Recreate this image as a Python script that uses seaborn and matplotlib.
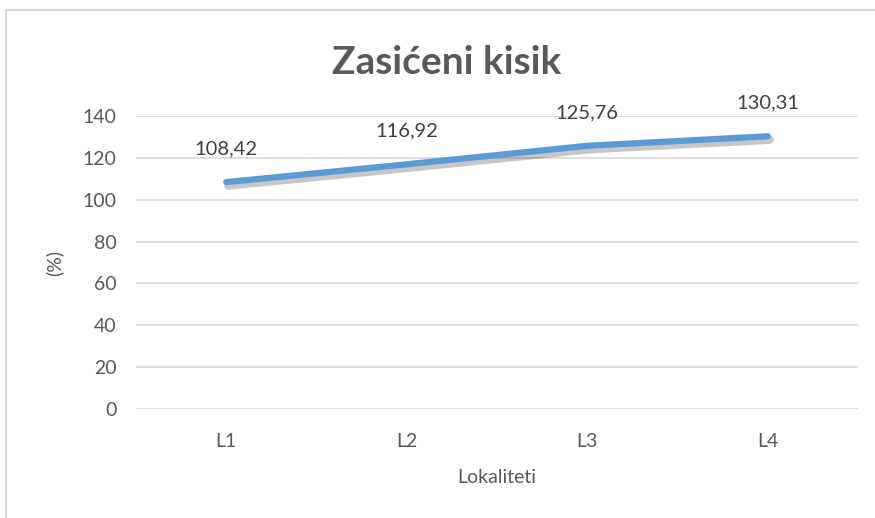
import matplotlib
matplotlib.use('Agg')
import matplotlib.pyplot as plt
import matplotlib.patheffects as pe
import seaborn as sns
import pandas as pd

# Data
locations = ['L1', 'L2', 'L3', 'L4']
saturation = [108.42, 116.92, 125.76, 130.31]
value_labels = ['108,42', '116,92', '125,76', '130,31']
y_ticks = [0, 20, 40, 60, 80, 100, 120, 140]

sns.set_style('white')
plt.rcParams['font.family'] = ['Lato', 'DejaVu Sans']

text_color = '#595959'
grid_color = '#D9D9D9'
line_color = '#5B9BD5'

df = pd.DataFrame({'loc': range(len(locations)), 'val': saturation})

fig = plt.figure(figsize=(8.75, 5.18), dpi=100)
ax = fig.add_axes([136 / 875, 1 - 409 / 518, (858 - 136) / 875, (409 - 116) / 518])

# chart frame (only top and left edges are inside the image)
fig.add_artist(plt.Line2D([6 / 875, 6 / 875], [0, 1 - 10 / 518], transform=fig.transFigure,
                          color=grid_color, lw=1.5))
fig.add_artist(plt.Line2D([6 / 875, 1], [1 - 10 / 518, 1 - 10 / 518], transform=fig.transFigure,
                          color=grid_color, lw=1.5))

sns.lineplot(data=df, x='loc', y='val', ax=ax, color=line_color, linewidth=4.5,
             solid_capstyle='round',
             path_effects=[pe.SimpleLineShadow(offset=(1.5, -2.5), shadow_color='black', alpha=0.22,
                                               linewidth=6),
                           pe.Normal()])

for i, (v, lab) in enumerate(zip(saturation, value_labels)):
    ax.annotate(lab, xy=(i, v), xytext=(0, 24), textcoords='offset points',
                ha='center', va='center', fontsize=14.5, color='#404040')

ax.set_xlim(-0.5, len(locations) - 0.5)
ax.set_ylim(0, 140)
ax.set_yticks(y_ticks)
ax.set_xticks(range(len(locations)))
ax.set_xticklabels(locations)
ax.yaxis.grid(True, color=grid_color, linewidth=1.2)
ax.xaxis.grid(False)
for s in ax.spines.values():
    s.set_visible(False)
ax.tick_params(axis='both', length=0, labelsize=14, colors=text_color)
ax.tick_params(axis='x', pad=17)
ax.tick_params(axis='y', pad=14)

ax.set_xlabel('Lokaliteti', fontsize=14, color=text_color, labelpad=14)
ax.set_ylabel('(%)', fontsize=14, color=text_color, labelpad=14)
fig.text(447 / 875, 1 - 62 / 518, 'Zasićeni kisik', ha='center', va='center',
         fontsize=28, fontweight='bold', color=text_color)

fig.savefig('out.png', dpi=100)
